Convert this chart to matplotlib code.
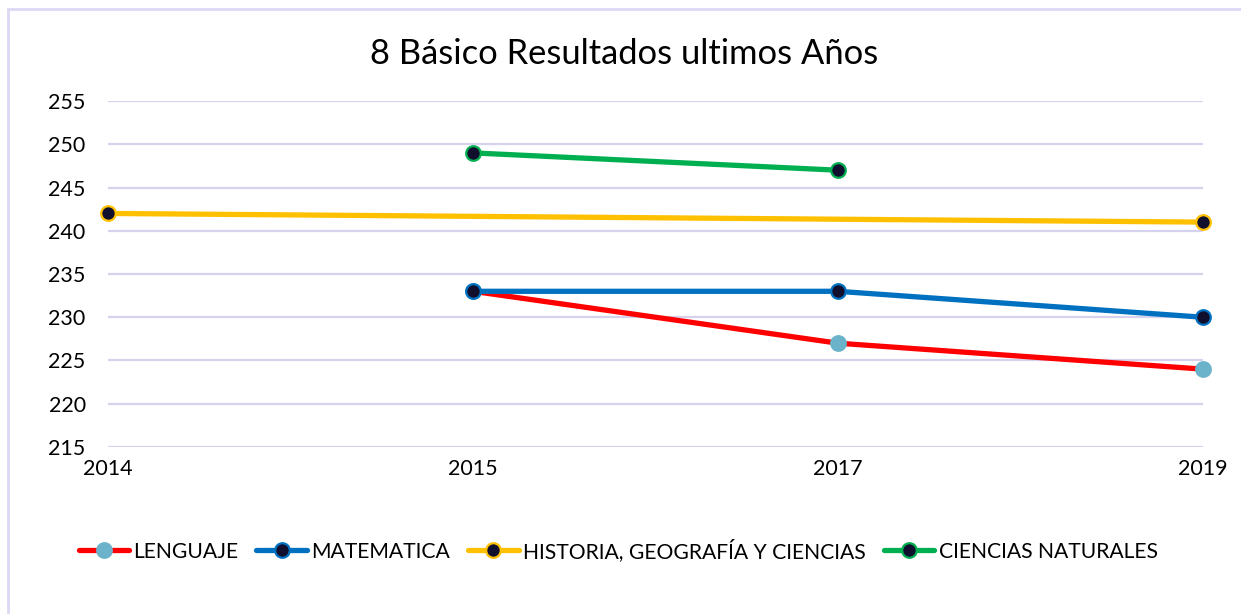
import numpy as np
import matplotlib.pyplot as plt
from matplotlib.patches import Rectangle

plt.rcParams['font.family'] = ['Lato', 'DejaVu Sans']

# data (nan = no value that year)
years = ['2014', '2015', '2017', '2019']
lenguaje = [np.nan, 233, 227, 224]
matematica = [np.nan, 233, 233, 230]
historia = [242, np.nan, np.nan, 241]
ciencias = [np.nan, 249, 247, np.nan]

series = [
    ('LENGUAJE', lenguaje, '#FF0000', '#6BB3CB', '#6BB3CB'),
    ('MATEMATICA', matematica, '#0070C0', '#10102E', '#0070C0'),
    ('HISTORIA, GEOGRAFÍA Y CIENCIAS', historia, '#FFC000', '#10102E', '#FFC000'),
    ('CIENCIAS NATURALES', ciencias, '#00B050', '#10102E', '#00B050'),
]

fig = plt.figure(figsize=(12.41, 6.14), dpi=100)
ax = fig.add_axes([0.087, 0.272, 0.8824, 0.5635])

x = np.arange(len(years))
for name, vals, lc, mfc, mec in series:
    v = np.array(vals, dtype=float)
    ok = ~np.isnan(v)
    ax.plot(x[ok], v[ok], color=lc, lw=3.8, marker='o', ms=10.5,
            mfc=mfc, mec=mec, mew=1.6, label=name, clip_on=False,
            solid_capstyle='round')

ax.set_xlim(0, 3)
ax.set_ylim(215, 255)
ax.set_yticks(np.arange(215, 256, 5))
ax.set_xticks(x)
ax.set_xticklabels(years)
ax.grid(axis='y', color='#D6D2EE', lw=1.6)
ax.set_axisbelow(True)
for s in ax.spines.values():
    s.set_visible(False)
ax.tick_params(length=0, labelsize=15.5, colors='black')
ax.tick_params(axis='y', pad=16)
ax.tick_params(axis='x', pad=9)

fig.text(0.503, 0.912, '8 Básico Resultados ultimos Años',
         ha='center', va='center', fontsize=24.8)

fig.legend(loc='center', bbox_to_anchor=(0.498, 0.104), ncol=4,
           frameon=False, fontsize=15.2, handlelength=2.4,
           handletextpad=0.2, columnspacing=0.85)

# light border of the chart area
fig.patches.append(Rectangle((8 / 1241, -0.1), 1.2, 1.1 - 9 / 614,
                             transform=fig.transFigure, fill=False,
                             ec='#DCD8F4', lw=2))

plt.savefig('out.png', dpi=100)
